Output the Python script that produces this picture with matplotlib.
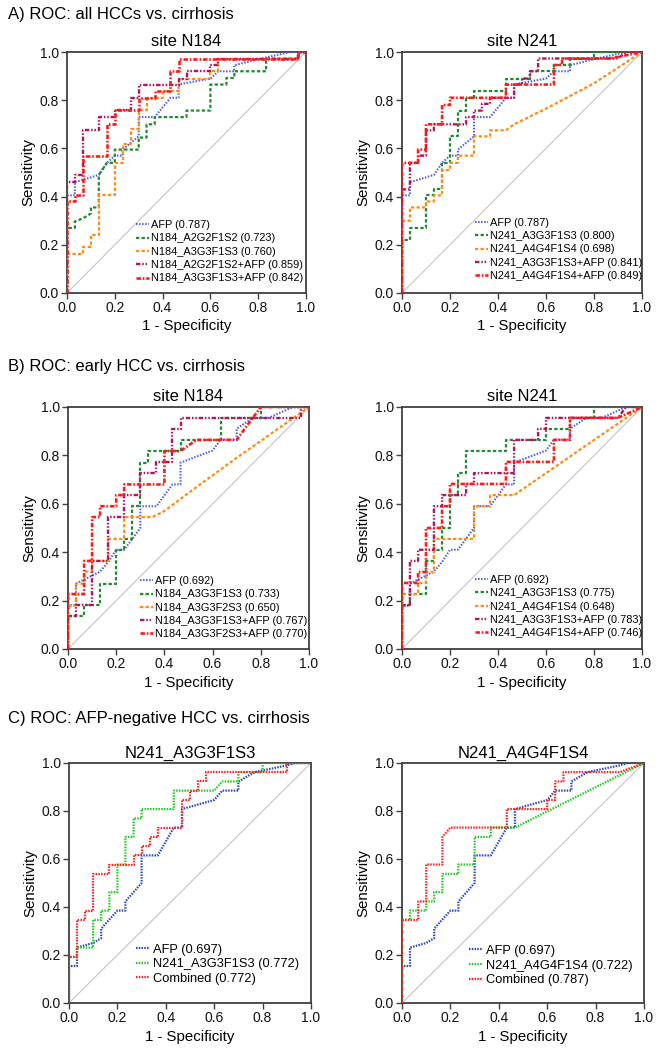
import matplotlib
matplotlib.use("Agg")
import matplotlib.pyplot as plt

plt.rcParams['font.family'] = ['Liberation Sans', 'DejaVu Sans']
plt.rcParams['lines.scale_dashes'] = False

# ---------------- DATA ----------------
section_titles = ["A) ROC: all HCCs vs. cirrhosis",
                  "B) ROC: early HCC vs. cirrhosis",
                  "C) ROC: AFP-negative HCC vs. cirrhosis"]
panel_titles = ["site N184", "site N241", "site N184", "site N241",
                "N241_A3G3F1S3", "N241_A4G4F1S4"]
tick_values = [0.0, 0.2, 0.4, 0.6, 0.8, 1.0]
tick_labels = ["0.0", "0.2", "0.4", "0.6", "0.8", "1.0"]

# AFP curves (shared)
afp_all_x = [0,0,0.033,0.033,0.067,0.1,0.133,0.167,0.2,0.233,0.233,0.3,0.3,0.367,0.433,0.467,0.467,0.6,0.633,0.7,0.7,0.8,0.933,1.0]
afp_all_y = [0,0.405,0.405,0.46,0.47,0.48,0.49,0.54,0.57,0.57,0.595,0.65,0.73,0.73,0.81,0.81,0.865,0.89,0.92,0.92,0.945,0.97,1.0,1.0]
afp_early_x = [0,0,0.033,0.033,0.133,0.167,0.2,0.233,0.3,0.3,0.367,0.433,0.467,0.467,0.6,0.633,0.7,0.7,0.767,0.833,0.933,1.0]
afp_early_y = [0,0.18,0.18,0.27,0.32,0.36,0.41,0.41,0.50,0.59,0.59,0.68,0.68,0.77,0.82,0.865,0.865,0.91,0.955,0.955,1.0,1.0]
afp_neg_x = [0,0,0.033,0.033,0.1,0.133,0.133,0.2,0.233,0.233,0.3,0.3,0.367,0.433,0.467,0.467,0.6,0.633,0.7,0.7,0.767,0.9,0.933,1.0]
afp_neg_y = [0,0.154,0.154,0.231,0.25,0.27,0.31,0.385,0.385,0.423,0.5,0.615,0.615,0.731,0.731,0.808,0.846,0.885,0.885,0.923,0.962,0.99,1.0,1.0]

# Panel A, N184
a184_g_x = [0,0,0.033,0.033,0.067,0.1,0.1,0.133,0.133,0.167,0.2,0.2,0.233,0.267,0.3,0.3,0.333,0.333,0.367,0.367,0.5,0.5,0.6,0.6,0.667,0.667,0.7,0.7,0.833,0.833,0.967,0.967,1.0]
a184_g_y = [0,0.27,0.27,0.297,0.31,0.33,0.355,0.355,0.49,0.54,0.54,0.595,0.595,0.595,0.595,0.645,0.645,0.70,0.70,0.73,0.73,0.757,0.757,0.865,0.865,0.892,0.892,0.92,0.92,0.973,0.973,1.0,1.0]
a184_o_x = [0,0,0.067,0.067,0.1,0.1,0.133,0.133,0.2,0.2,0.233,0.233,0.267,0.267,0.3,0.3,0.333,0.333,0.4,0.4,0.467,0.467,0.6,0.6,0.633,0.633,0.967,0.967,1.0]
a184_o_y = [0,0.16,0.16,0.19,0.19,0.24,0.24,0.405,0.405,0.54,0.54,0.62,0.62,0.68,0.68,0.76,0.76,0.81,0.81,0.84,0.84,0.89,0.89,0.92,0.92,0.97,0.97,1.0,1.0]
a184_p_x = [0,0,0.033,0.033,0.067,0.067,0.133,0.133,0.2,0.2,0.267,0.267,0.3,0.3,0.467,0.467,0.5,0.5,0.6,0.6,0.633,0.633,0.967,0.967,1.0]
a184_p_y = [0,0.46,0.46,0.49,0.49,0.675,0.675,0.73,0.73,0.76,0.76,0.81,0.81,0.865,0.865,0.89,0.89,0.92,0.92,0.946,0.946,0.973,0.973,1.0,1.0]
a184_r_x = [0,0,0.033,0.033,0.067,0.067,0.167,0.167,0.2,0.2,0.3,0.3,0.367,0.367,0.433,0.433,0.467,0.467,0.967,0.967,1.0]
a184_r_y = [0,0.38,0.38,0.405,0.405,0.57,0.57,0.70,0.70,0.76,0.76,0.81,0.81,0.84,0.84,0.92,0.92,0.973,0.973,1.0,1.0]

# Panel A, N241
a241_g_x = [0,0,0.033,0.033,0.1,0.1,0.133,0.133,0.167,0.167,0.2,0.2,0.233,0.233,0.267,0.267,0.3,0.3,0.433,0.433,0.533,0.533,0.633,0.633,0.7,0.7,0.8,0.8,1.0]
a241_g_y = [0,0.22,0.22,0.27,0.27,0.405,0.405,0.432,0.432,0.54,0.54,0.65,0.65,0.757,0.757,0.81,0.81,0.84,0.84,0.89,0.89,0.92,0.92,0.946,0.946,0.973,0.973,1.0,1.0]
a241_o_x = [0,0,0.033,0.033,0.1,0.1,0.133,0.133,0.167,0.167,0.2,0.2,0.233,0.233,0.3,0.3,0.367,0.367,0.433,0.467,0.6,0.8,1.0]
a241_o_y = [0,0.30,0.30,0.355,0.355,0.38,0.38,0.405,0.405,0.51,0.51,0.54,0.54,0.57,0.57,0.65,0.65,0.675,0.675,0.70,0.765,0.87,1.0]
a241_p_x = [0,0,0.033,0.033,0.067,0.067,0.1,0.1,0.133,0.133,0.267,0.267,0.3,0.3,0.333,0.333,0.367,0.367,0.467,0.467,0.5,0.5,0.533,0.533,0.567,0.567,0.9,0.933,1.0]
a241_p_y = [0,0.43,0.43,0.54,0.54,0.57,0.57,0.675,0.675,0.70,0.70,0.73,0.73,0.757,0.757,0.785,0.785,0.81,0.81,0.865,0.865,0.89,0.89,0.92,0.92,0.973,0.973,1.0,1.0]
a241_r_x = [0,0,0.067,0.067,0.1,0.1,0.167,0.167,0.2,0.2,0.433,0.433,0.633,0.633,0.667,0.667,0.867,1.0]
a241_r_y = [0,0.54,0.54,0.595,0.595,0.70,0.70,0.78,0.78,0.81,0.81,0.865,0.865,0.946,0.946,0.973,0.973,1.0]

# Panel B, N184
b184_g_x = [0,0,0.067,0.067,0.133,0.133,0.2,0.2,0.233,0.233,0.267,0.267,0.3,0.3,0.333,0.333,0.467,0.467,0.633,0.633,0.8,0.8,1.0]
b184_g_y = [0,0.136,0.136,0.18,0.18,0.27,0.27,0.41,0.41,0.455,0.455,0.59,0.59,0.77,0.77,0.818,0.818,0.864,0.864,0.955,0.955,1.0,1.0]
b184_o_x = [0,0,0.033,0.033,0.067,0.067,0.1,0.1,0.167,0.167,0.233,0.233,0.35,0.4,0.5,0.7,1.0]
b184_o_y = [0,0.18,0.18,0.27,0.27,0.32,0.32,0.364,0.364,0.455,0.455,0.545,0.545,0.57,0.645,0.79,1.0]
b184_p_x = [0,0,0.033,0.033,0.1,0.1,0.167,0.167,0.233,0.233,0.3,0.3,0.367,0.367,0.433,0.433,0.467,0.467,0.967,0.967,1.0]
b184_p_y = [0,0.136,0.136,0.18,0.18,0.364,0.364,0.545,0.545,0.636,0.636,0.727,0.727,0.773,0.773,0.91,0.91,0.955,0.955,1.0,1.0]
b184_r_x = [0,0,0.067,0.067,0.1,0.1,0.133,0.133,0.2,0.2,0.233,0.233,0.4,0.4,0.467,0.533,0.7,0.733,0.767,0.8,1.0]
b184_r_y = [0,0.227,0.227,0.364,0.364,0.545,0.545,0.59,0.59,0.636,0.636,0.68,0.68,0.818,0.818,0.864,0.864,0.91,0.955,1.0,1.0]

# Panel B, N241
b241_g_x = [0,0,0.033,0.033,0.1,0.1,0.133,0.133,0.167,0.167,0.2,0.2,0.233,0.233,0.267,0.267,0.433,0.433,0.6,0.6,0.7,0.7,0.8,0.8,1.0]
b241_g_y = [0,0.18,0.18,0.227,0.227,0.364,0.364,0.41,0.41,0.5,0.5,0.636,0.636,0.727,0.727,0.818,0.818,0.864,0.864,0.91,0.91,0.955,0.955,1.0,1.0]
b241_o_x = [0,0,0.067,0.067,0.1,0.1,0.133,0.133,0.3,0.3,0.367,0.367,0.467,1.0]
b241_o_y = [0,0.227,0.227,0.273,0.273,0.318,0.318,0.455,0.455,0.59,0.59,0.636,0.636,1.0]
b241_p_x = [0,0,0.033,0.033,0.067,0.067,0.133,0.133,0.167,0.167,0.267,0.267,0.3,0.3,0.467,0.467,0.567,0.567,0.6,0.6,0.9,0.933,1.0]
b241_p_y = [0,0.18,0.18,0.364,0.364,0.41,0.41,0.59,0.59,0.636,0.636,0.682,0.682,0.727,0.727,0.864,0.864,0.91,0.91,0.955,0.955,1.0,1.0]
b241_r_x = [0,0,0.067,0.067,0.1,0.1,0.167,0.167,0.2,0.2,0.433,0.433,0.633,0.633,0.7,0.7,0.9,1.0]
b241_r_y = [0,0.273,0.273,0.318,0.318,0.5,0.5,0.59,0.59,0.682,0.682,0.773,0.773,0.864,0.864,0.955,0.955,1.0]

# Panel C
c3_g_x = [0,0,0.033,0.033,0.1,0.1,0.133,0.133,0.167,0.167,0.2,0.2,0.233,0.233,0.267,0.267,0.3,0.3,0.433,0.433,0.6,0.633,0.7,0.7,0.8,0.8,1.0]
c3_g_y = [0,0.192,0.192,0.231,0.231,0.346,0.346,0.385,0.385,0.462,0.462,0.577,0.577,0.692,0.692,0.769,0.769,0.808,0.808,0.885,0.885,0.923,0.923,0.962,0.962,1.0,1.0]
c3_r_x = [0,0,0.033,0.033,0.067,0.067,0.1,0.1,0.167,0.167,0.267,0.267,0.3,0.3,0.333,0.333,0.367,0.367,0.467,0.467,0.5,0.5,0.533,0.533,0.567,0.567,0.9,0.9,1.0]
c3_r_y = [0,0.192,0.192,0.346,0.346,0.385,0.385,0.538,0.538,0.577,0.577,0.615,0.615,0.654,0.654,0.692,0.692,0.731,0.731,0.846,0.846,0.885,0.885,0.923,0.923,0.962,0.962,1.0,1.0]
c4_g_x = [0,0,0.033,0.033,0.1,0.1,0.133,0.133,0.167,0.167,0.233,0.233,0.3,0.3,0.367,0.367,0.467,1.0]
c4_g_y = [0,0.346,0.346,0.385,0.385,0.423,0.423,0.462,0.462,0.538,0.538,0.577,0.577,0.692,0.692,0.731,0.731,1.0]
c4_r_x = [0,0,0.067,0.067,0.1,0.1,0.167,0.167,0.2,0.433,0.433,0.6,0.6,0.633,0.633,0.667,0.667,0.9,1.0]
c4_r_y = [0,0.346,0.346,0.423,0.423,0.577,0.577,0.692,0.731,0.731,0.808,0.808,0.846,0.846,0.923,0.923,0.962,0.962,1.0]

# Legend labels
labels_a184 = ["AFP (0.787)", "N184_A2G2F1S2 (0.723)", "N184_A3G3F1S3 (0.760)",
               "N184_A2G2F1S2+AFP (0.859)", "N184_A3G3F1S3+AFP (0.842)"]
labels_a241 = ["AFP (0.787)", "N241_A3G3F1S3 (0.800)", "N241_A4G4F1S4 (0.698)",
               "N241_A3G3F1S3+AFP (0.841)", "N241_A4G4F1S4+AFP (0.849)"]
labels_b184 = ["AFP (0.692)", "N184_A3G3F1S3 (0.733)", "N184_A3G3F2S3 (0.650)",
               "N184_A3G3F1S3+AFP (0.767)", "N184_A3G3F2S3+AFP (0.770)"]
labels_b241 = ["AFP (0.692)", "N241_A3G3F1S3 (0.775)", "N241_A4G4F1S4 (0.648)",
               "N241_A3G3F1S3+AFP (0.783)", "N241_A4G4F1S4+AFP (0.746)"]
labels_c3 = ["AFP (0.697)", "N241_A3G3F1S3 (0.772)", "Combined (0.772)"]
labels_c4 = ["AFP (0.697)", "N241_A4G4F1S4 (0.722)", "Combined (0.787)"]

# ---------------- STYLE ----------------
W, H = 661, 1050
fig = plt.figure(figsize=(W / 100, H / 100), dpi=100)

def add_ax(left, right, top, bottom):
    return fig.add_axes([left / W, 1 - bottom / H, (right - left) / W, (bottom - top) / H])

sty_ab = [
    dict(color='#4f5ff0', lw=1.5, dashes=(1.1, 1.1)),
    dict(color='#1f8a30', lw=1.6, dashes=(2.4, 1.6)),
    dict(color='#ff8c14', lw=1.6, dashes=(2.4, 1.6)),
    dict(color='#b0165e', lw=1.7, dashes=(3.2, 1.3, 1.1, 1.3, 1.1, 1.3)),
    dict(color='#ff1a1a', lw=1.9, dashes=(3.2, 1.3, 1.2, 1.3)),
]
sty_c = [
    dict(color='#2a48c8', lw=1.6, dashes=(1.1, 0.9)),
    dict(color='#1fcc1f', lw=1.6, dashes=(1.1, 0.9)),
    dict(color='#ff2020', lw=1.6, dashes=(1.1, 0.9)),
]

def style_axes(ax, title):
    ax.set_xlim(0, 1)
    ax.set_ylim(0, 1)
    ax.plot([0, 1], [0, 1], color='#c4c4c4', lw=0.8, zorder=1)
    ax.set_xticks(tick_values)
    ax.set_xticklabels(tick_labels)
    ax.set_yticks(tick_values)
    ax.set_yticklabels(tick_labels)
    ax.tick_params(direction='out', length=4, width=1, color='#404040',
                   labelsize=10, pad=2, labelcolor='#111111')
    for s in ax.spines.values():
        s.set_color('#404040')
        s.set_linewidth(1.3)
    ax.set_title(title, fontsize=12, pad=4)
    ax.set_ylabel("Sensitivity", fontsize=10.8, labelpad=3)
    ax.set_xlabel("1 - Specificity", fontsize=10.8, labelpad=3)

def draw_panel(ax, curves, labels, styles, title, legend_fs, anchor, spacing):
    style_axes(ax, title)
    handles = []
    for (cx, cy), st in zip(curves, styles):
        h, = ax.plot(cx, cy, solid_capstyle='butt', dash_capstyle='butt', zorder=3, **st)
        handles.append(h)
    ax.legend(handles, labels, loc='lower left', bbox_to_anchor=anchor,
              frameon=False, fontsize=legend_fs, handlelength=1.15,
              handletextpad=0.2, labelspacing=spacing, borderpad=0, borderaxespad=0)

# Section titles
fig.text(8 / W, 1 - 15 / H, section_titles[0], fontsize=12, va='center', ha='left')
fig.text(8 / W, 1 - 367 / H, section_titles[1], fontsize=12, va='center', ha='left')
fig.text(8 / W, 1 - 718 / H, section_titles[2], fontsize=12, va='center', ha='left')

ax1 = add_ax(67, 306, 52, 293)
draw_panel(ax1, [(afp_all_x, afp_all_y), (a184_g_x, a184_g_y), (a184_o_x, a184_o_y),
                 (a184_p_x, a184_p_y), (a184_r_x, a184_r_y)],
           labels_a184, sty_ab, panel_titles[0], 7.9, (0.29, 0.04), 0.3)

ax2 = add_ax(402, 642, 52, 293)
draw_panel(ax2, [(afp_all_x, afp_all_y), (a241_g_x, a241_g_y), (a241_o_x, a241_o_y),
                 (a241_p_x, a241_p_y), (a241_r_x, a241_r_y)],
           labels_a241, sty_ab, panel_titles[1], 7.9, (0.305, 0.05), 0.3)

ax3 = add_ax(68, 309, 407, 649)
draw_panel(ax3, [(afp_early_x, afp_early_y), (b184_g_x, b184_g_y), (b184_o_x, b184_o_y),
                 (b184_p_x, b184_p_y), (b184_r_x, b184_r_y)],
           labels_b184, sty_ab, panel_titles[2], 7.9, (0.30, 0.04), 0.3)

ax4 = add_ax(402, 642, 407, 649)
draw_panel(ax4, [(afp_early_x, afp_early_y), (b241_g_x, b241_g_y), (b241_o_x, b241_o_y),
                 (b241_p_x, b241_p_y), (b241_r_x, b241_r_y)],
           labels_b241, sty_ab, panel_titles[3], 7.9, (0.305, 0.045), 0.3)

ax5 = add_ax(69, 311, 763, 1003)
draw_panel(ax5, [(afp_neg_x, afp_neg_y), (c3_g_x, c3_g_y), (c3_r_x, c3_r_y)],
           labels_c3, sty_c, panel_titles[4], 9.3, (0.275, 0.075), 0.2)

ax6 = add_ax(402, 644, 763, 1003)
draw_panel(ax6, [(afp_neg_x, afp_neg_y), (c4_g_x, c4_g_y), (c4_r_x, c4_r_y)],
           labels_c4, sty_c, panel_titles[5], 9.3, (0.275, 0.07), 0.2)

fig.savefig("out.png", dpi=100)
